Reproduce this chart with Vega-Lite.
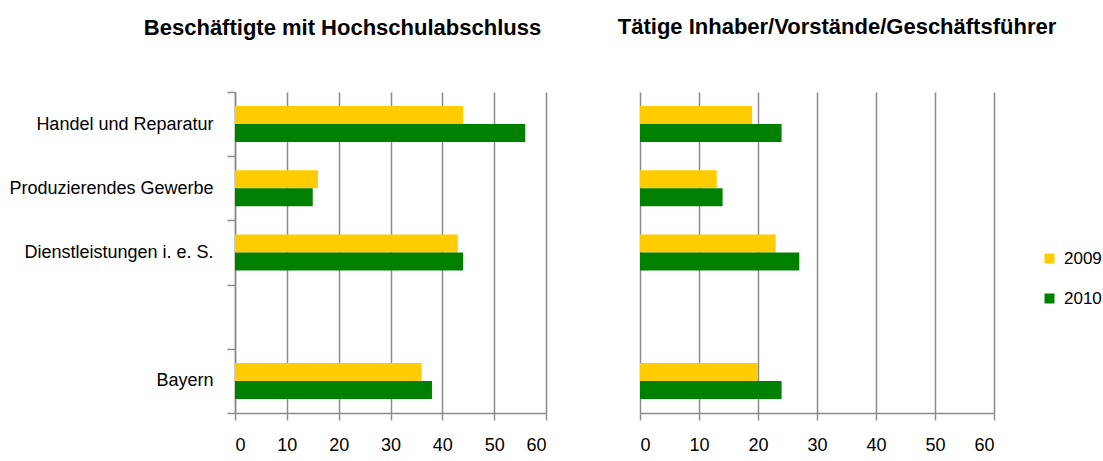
{
  "$schema": "https://vega.github.io/schema/vega-lite/v6.json",
  "background": "white",
  "padding": {"left": 8, "top": 16, "right": 5, "bottom": 5},
  "bounds": "flush",
  "spacing": 94,
  "datasets": {
    "hochschule": [
      {"Bereich": "Handel und Reparatur", "Jahr": "2009", "Anteil": 44},
      {"Bereich": "Handel und Reparatur", "Jahr": "2010", "Anteil": 56},
      {"Bereich": "Produzierendes Gewerbe", "Jahr": "2009", "Anteil": 16},
      {"Bereich": "Produzierendes Gewerbe", "Jahr": "2010", "Anteil": 15},
      {"Bereich": "Dienstleistungen i. e. S.", "Jahr": "2009", "Anteil": 43},
      {"Bereich": "Dienstleistungen i. e. S.", "Jahr": "2010", "Anteil": 44},
      {"Bereich": "Bayern", "Jahr": "2009", "Anteil": 36},
      {"Bereich": "Bayern", "Jahr": "2010", "Anteil": 38}
    ],
    "inhaber": [
      {"Bereich": "Handel und Reparatur", "Jahr": "2009", "Anteil": 19},
      {"Bereich": "Handel und Reparatur", "Jahr": "2010", "Anteil": 24},
      {"Bereich": "Produzierendes Gewerbe", "Jahr": "2009", "Anteil": 13},
      {"Bereich": "Produzierendes Gewerbe", "Jahr": "2010", "Anteil": 14},
      {"Bereich": "Dienstleistungen i. e. S.", "Jahr": "2009", "Anteil": 23},
      {"Bereich": "Dienstleistungen i. e. S.", "Jahr": "2010", "Anteil": 27},
      {"Bereich": "Bayern", "Jahr": "2009", "Anteil": 20},
      {"Bereich": "Bayern", "Jahr": "2010", "Anteil": 24}
    ]
  },
  "hconcat": [
    {
      "title": {"text": "Beschäftigte mit Hochschulabschluss", "dx": -48, "offset": 43},
      "data": {"name": "hochschule"},
      "width": 311,
      "height": 321,
      "mark": {"type": "bar"},
      "encoding": {
        "y": {
          "field": "Bereich", "type": "nominal",
          "scale": {"domain": ["Handel und Reparatur", "Produzierendes Gewerbe", "Dienstleistungen i. e. S.", " ", "Bayern"], "paddingInner": 0, "paddingOuter": 0},
          "axis": {"title": null, "tickBand": "extent", "ticks": true, "tickSize": 8, "labelPadding": 14, "labelLimit": 0, "domain": true}
        },
        "yOffset": {"field": "Jahr", "type": "nominal", "sort": ["2009", "2010"], "scale": {"paddingInner": 0, "paddingOuter": 0.783}},
        "x": {
          "field": "Anteil", "type": "quantitative",
          "scale": {"domain": [0, 60], "nice": false},
          "axis": {"title": null, "values": [0, 10, 20, 30, 40, 50, 60], "grid": true}
        },
        "color": {
          "field": "Jahr", "type": "nominal",
          "scale": {"domain": ["2009", "2010"], "range": ["#FFCC00", "#008000"]},
          "legend": {"orient": "none", "legendX": 806, "legendY": 158, "title": null, "symbolType": "square", "symbolSize": 100, "symbolStrokeWidth": 0, "labelFontSize": 17, "rowPadding": 22, "labelOffset": 6}
        }
      }
    },
    {
      "title": {"text": "Tätige Inhaber/Vorstände/Geschäftsführer", "dx": 20, "offset": 53},
      "data": {"name": "inhaber"},
      "width": 354,
      "height": 321,
      "mark": {"type": "bar"},
      "encoding": {
        "y": {
          "field": "Bereich", "type": "nominal",
          "scale": {"domain": ["Handel und Reparatur", "Produzierendes Gewerbe", "Dienstleistungen i. e. S.", " ", "Bayern"], "paddingInner": 0, "paddingOuter": 0},
          "axis": null
        },
        "yOffset": {"field": "Jahr", "type": "nominal", "sort": ["2009", "2010"], "scale": {"paddingInner": 0, "paddingOuter": 0.783}},
        "x": {
          "field": "Anteil", "type": "quantitative",
          "scale": {"domain": [0, 60], "nice": false},
          "axis": {"title": null, "values": [0, 10, 20, 30, 40, 50, 60], "grid": true}
        },
        "color": {
          "field": "Jahr", "type": "nominal",
          "scale": {"domain": ["2009", "2010"], "range": ["#FFCC00", "#008000"]}
        }
      }
    }
  ],
  "config": {
    "font": "Liberation Sans",
    "view": {"stroke": null},
    "title": {"fontSize": 22, "fontWeight": "bold", "color": "#000000", "anchor": "middle", "font": "Liberation Sans"},
    "axis": {
      "labelFont": "Liberation Sans", "labelFontSize": 18, "labelColor": "#000000",
      "domainColor": "#8c8c8c", "domainWidth": 1.5,
      "tickColor": "#8c8c8c", "tickWidth": 1.5,
      "gridColor": "#8c8c8c", "gridWidth": 1.5, "gridOpacity": 1
    },
    "axisX": {"tickSize": 7, "labelPadding": 16},
    "axisY": {"grid": false},
    "legend": {"labelFont": "Liberation Sans", "labelColor": "#000000"}
  }
}
